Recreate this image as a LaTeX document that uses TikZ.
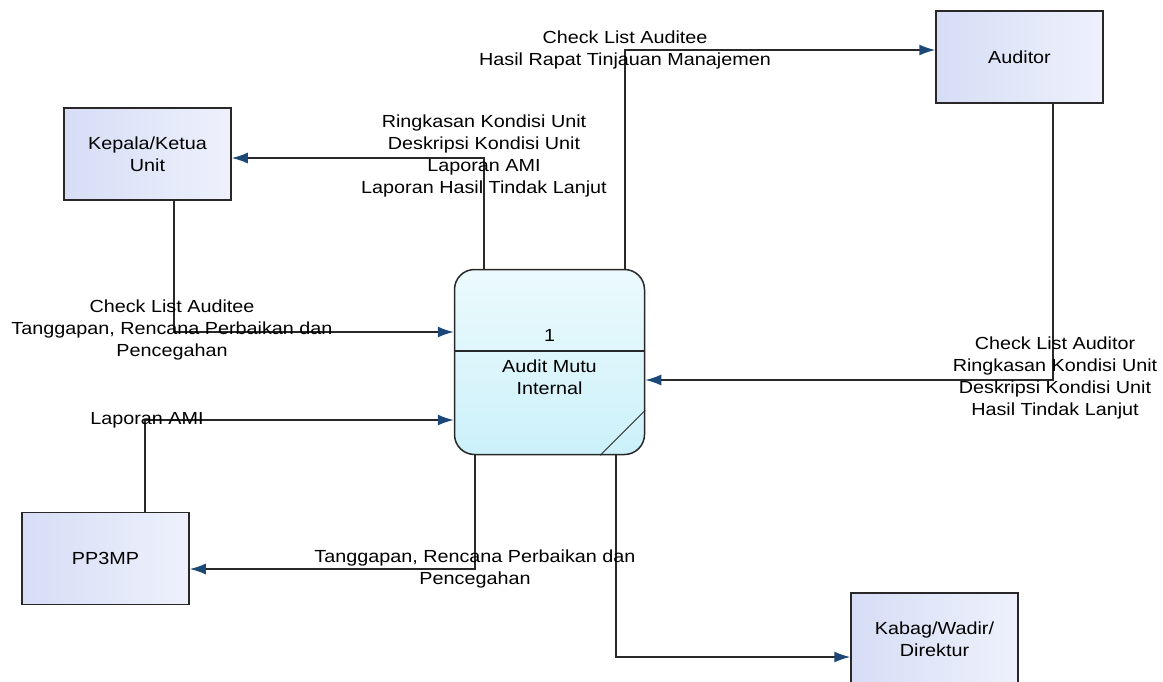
\documentclass[tikz,border=0pt]{standalone}
\usepackage{fontspec}
\setmainfont{Liberation Sans}[FakeStretch=1.13]
\usetikzlibrary{arrows.meta,calc}
\definecolor{tipblue}{RGB}{28,72,120}
\definecolor{boxleft}{RGB}{214,221,245}
\definecolor{boxright}{RGB}{238,241,252}
\definecolor{proctop}{RGB}{236,250,253}
\definecolor{procbot}{RGB}{204,241,250}
\definecolor{linegray}{RGB}{40,40,40}

\begin{document}
\begin{tikzpicture}[x=1pt,y=-1pt,
  font=\fontsize{17.5}{22}\selectfont,
  entity/.style={draw=linegray,line width=1.5pt,left color=boxleft,right color=boxright,
    minimum width=167pt,minimum height=92pt,align=center,inner sep=0pt},
  process/.style={draw=linegray,line width=1.5pt,rounded corners=20pt,
    top color=proctop,bottom color=procbot,minimum width=190pt,minimum height=185pt},
  flow/.style={draw=linegray,line width=1.5pt,-{Latex[length=16pt,width=11pt,color=tipblue]}},
  lbl/.style={align=center,inner sep=0pt}]
\useasboundingbox (0,0) rectangle (1163,681);

%external entities
\node[entity] (kepala) at (147.5,154) {Kepala/Ketua\\Unit};
\node[entity] (auditor) at (1019.5,57) {Auditor};
\node[entity] (pp3mp) at (105.5,558.5) {PP3MP};
\node[entity] (kabag) at (934.5,639) {Kabag/Wadir/\\Direktur};

%process 1
\node[process] (proc) at (549.5,362) {};
\draw[draw=linegray,line width=1.2pt] ([yshift=11pt]proc.west) -- ([yshift=11pt]proc.east);
\draw[draw=linegray,line width=1pt] ([xshift=-45pt]proc.south east) -- ([yshift=45pt]proc.south east);
\node (procno) at (549.5,335) {1};
\node[lbl] (procname) at (549.5,377.5) {Audit Mutu\\Internal};

%flows
\draw[flow] ([xshift=-65.5pt]proc.north) |- ([yshift=-4pt]kepala.east);
\draw[flow] ([xshift=75.5pt]proc.north) |- ([yshift=7pt]auditor.west);
\draw[flow] ([xshift=26.5pt]kepala.south) |- ([yshift=30pt]proc.west);
\draw[flow] ([xshift=39.5pt]pp3mp.north) |- ([yshift=-58pt]proc.west);
\draw[flow] ([xshift=33.5pt]auditor.south) |- ([yshift=-18pt]proc.east);
\draw[flow] ([xshift=-74.5pt]proc.south) |- ([yshift=-10.5pt]pp3mp.east);
\draw[flow] ([xshift=66.5pt]proc.south) |- ([yshift=-18pt]kabag.west);

%flow labels
\node[lbl] (lkepala) at (484,156) {Ringkasan Kondisi Unit\\Deskripsi Kondisi Unit\\Laporan AMI\\Laporan Hasil Tindak Lanjut};
\node[lbl] (lauditor) at (625,49.5) {Check List Auditee\\Hasil Rapat Tinjauan Manajemen};
\node[lbl] (lcheck) at (172,330) {Check List Auditee\\Tanggapan, Rencana Perbaikan dan\\Pencegahan};
\node[lbl] (lami) at (147,420) {Laporan AMI};
\node[lbl] (lauditin) at (1055,377.5) {Check List Auditor\\Ringkasan Kondisi Unit\\Deskripsi Kondisi Unit\\Hasil Tindak Lanjut};
\node[lbl] (ltanggap) at (475,568.5) {Tanggapan, Rencana Perbaikan dan\\Pencegahan};
\end{tikzpicture}
\end{document}
